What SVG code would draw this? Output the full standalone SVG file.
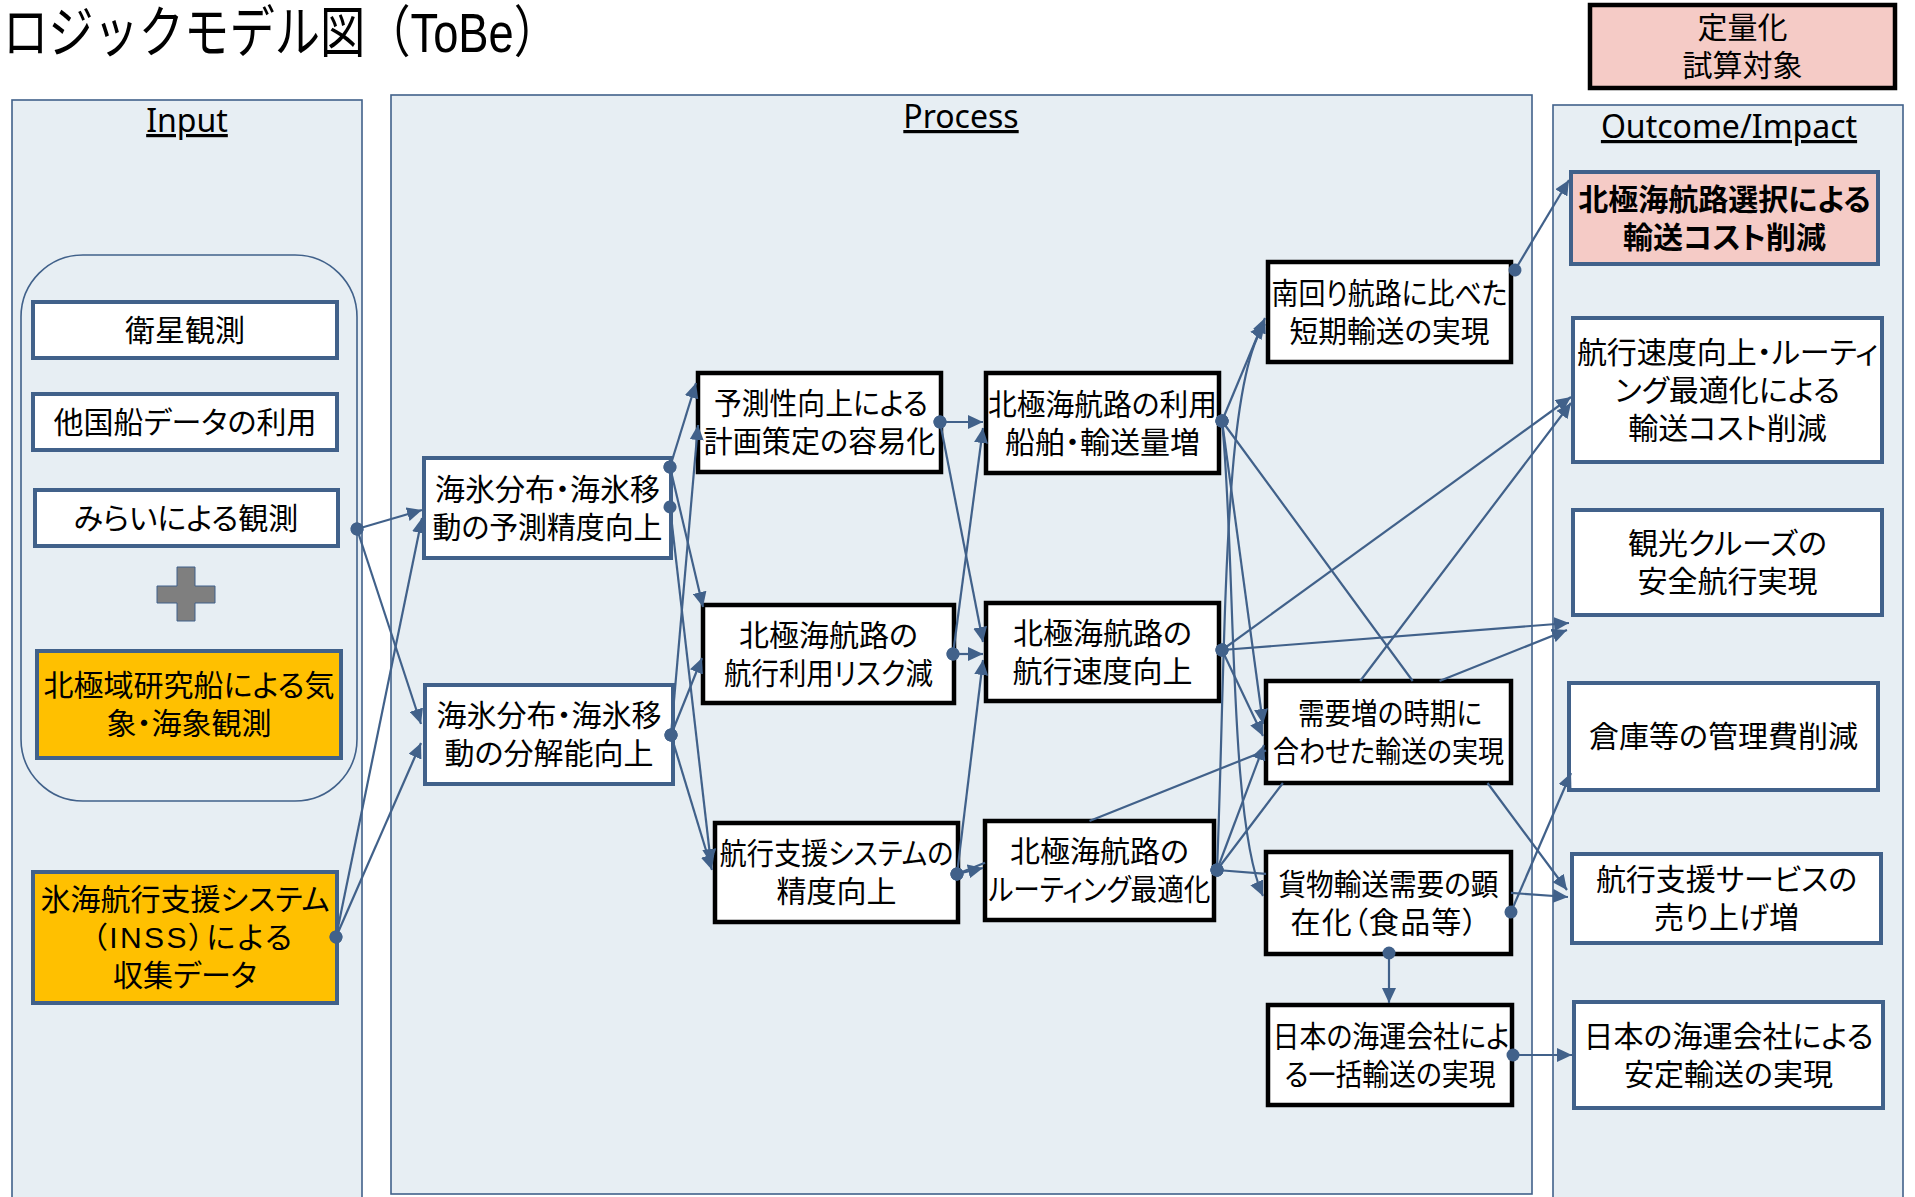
<svg xmlns="http://www.w3.org/2000/svg" width="1915" height="1197" viewBox="0 0 1915 1197">
<style>
.panel{fill:#E7EEF3;stroke:#41618A;stroke-width:1.6}
.grp{fill:none;stroke:#41618A;stroke-width:1.6}
.nb{fill:#FFFFFF;stroke:#41618A;stroke-width:4}
.nk{fill:#FFFFFF;stroke:#000000;stroke-width:4.5}
.ny{fill:#FFC000;stroke:#41618A;stroke-width:4}
.np{fill:#F5CBC6;stroke:#41618A;stroke-width:4}
.nq{fill:#F5CBC6;stroke:#000000;stroke-width:4.5}
.t{font-family:"Liberation Sans","Noto Sans CJK JP",sans-serif;font-size:30px;fill:#000;text-anchor:middle;dominant-baseline:central;font-feature-settings:"palt"}
.b{font-weight:700}
.hd{font-family:"Noto Sans","Liberation Sans",sans-serif;font-size:32px;fill:#000;text-anchor:middle;text-decoration:underline}
.c{fill:none;stroke:#41618A;stroke-width:2.2;marker-start:url(#dot);marker-end:url(#ah)}
.plus{fill:#7F7F7F;stroke:#41618A;stroke-width:1}
</style>
<defs>
<marker id="ah" markerUnits="userSpaceOnUse" markerWidth="16" markerHeight="14" refX="15" refY="7" orient="auto">
<path d="M0,0 L15,7 L0,14 z" fill="#41618A"/>
</marker>
<marker id="dot" markerUnits="userSpaceOnUse" markerWidth="14" markerHeight="14" refX="7" refY="7" orient="auto">
<circle cx="7" cy="7" r="6.5" fill="#41618A"/>
</marker>
</defs>
<rect width="1915" height="1197" fill="#FFFFFF"/>
<text class="t" x="3" y="32" style="font-size:56px;text-anchor:start;font-feature-settings:normal" textLength="556" lengthAdjust="spacingAndGlyphs">ロジックモデル図（ToBe）</text>
<g id="legend">
<rect x="1590" y="5" width="305" height="83" class="nq"/>
<text class="t" x="1742.5" y="27">定量化</text>
<text class="t" x="1742.5" y="65">試算対象</text>
</g>
<g id="panel-input">
<rect x="12" y="100" width="350" height="1110" class="panel"/>
<text class="hd" x="187" y="132">Input</text>
<rect x="21" y="255" width="336" height="546" rx="62" ry="62" class="grp"/>
</g>
<g id="panel-process">
<rect x="391" y="95" width="1141" height="1099" class="panel"/>
<text class="hd" x="961" y="128">Process</text>
</g>
<g id="panel-outcome">
<rect x="1553" y="105" width="350" height="1110" class="panel"/>
<text class="hd" x="1729" y="138">Outcome/Impact</text>
</g>
<g id="in1"><rect x="33" y="302" width="304" height="56" class="nb"/><text class="t" x="185" y="330">衛星観測</text></g>
<g id="in2"><rect x="33" y="394" width="304" height="56" class="nb"/><text class="t" x="185" y="422">他国船データの利用</text></g>
<g id="in3"><rect x="35" y="490" width="303" height="56" class="nb"/><text class="t" x="186" y="518">みらいによる観測</text></g>
<g id="plus"><path class="plus" d="M177,567 H195 V586 H215 V603 H195 V621 H177 V603 H157 V586 H177 Z"/></g>
<g id="in4"><rect x="37" y="651" width="304" height="107" class="ny"/><text class="t" x="189" y="685">北極域研究船による気</text><text class="t" x="189" y="723">象・海象観測</text></g>
<g id="in5"><rect x="33" y="872" width="304" height="131" class="ny"/><text class="t" x="185" y="899.5">氷海航行支援システム</text><text class="t" x="192" y="937.5" textLength="200">（INSS）による</text><text class="t" x="185" y="975.5">収集データ</text></g>
<g id="a1"><rect x="424" y="458" width="247" height="100" class="nb"/><text class="t" x="547.5" y="489">海氷分布・海氷移</text><text class="t" x="547.5" y="527" textLength="230" lengthAdjust="spacingAndGlyphs">動の予測精度向上</text></g>
<g id="a2"><rect x="425" y="685" width="248" height="99" class="nb"/><text class="t" x="549" y="715.5">海氷分布・海氷移</text><text class="t" x="549" y="753.5">動の分解能向上</text></g>
<g id="b1"><rect x="698" y="373" width="243" height="99" class="nk"/><text class="t" x="821" y="403.5" textLength="214" lengthAdjust="spacingAndGlyphs">予測性向上による</text><text class="t" x="819.5" y="441.5" textLength="232" lengthAdjust="spacingAndGlyphs">計画策定の容易化</text></g>
<g id="b2"><rect x="703" y="605" width="251" height="98" class="nk"/><text class="t" x="828.5" y="635">北極海航路の</text><text class="t" x="828.5" y="673" textLength="209" lengthAdjust="spacingAndGlyphs">航行利用リスク減</text></g>
<g id="b3"><rect x="715" y="823" width="243" height="99" class="nk"/><text class="t" x="836.5" y="853.5" textLength="234" lengthAdjust="spacingAndGlyphs">航行支援システムの</text><text class="t" x="836.5" y="891.5">精度向上</text></g>
<g id="c1"><rect x="986" y="373" width="233" height="100" class="nk"/><text class="t" x="1102.5" y="404" textLength="229" lengthAdjust="spacingAndGlyphs">北極海航路の利用</text><text class="t" x="1102.5" y="442">船舶・輸送量増</text></g>
<g id="c2"><rect x="986" y="603" width="233" height="98" class="nk"/><text class="t" x="1102.5" y="633">北極海航路の</text><text class="t" x="1102.5" y="671">航行速度向上</text></g>
<g id="c3"><rect x="985" y="821" width="229" height="99" class="nk"/><text class="t" x="1099.5" y="851.5">北極海航路の</text><text class="t" x="1099.5" y="889.5" textLength="222" lengthAdjust="spacingAndGlyphs">ルーティング最適化</text></g>
<g id="d1"><rect x="1268" y="262" width="243" height="100" class="nk"/><text class="t" x="1389.5" y="293" textLength="236" lengthAdjust="spacingAndGlyphs">南回り航路に比べた</text><text class="t" x="1389.5" y="331" textLength="200" lengthAdjust="spacingAndGlyphs">短期輸送の実現</text></g>
<g id="d2"><rect x="1266" y="681" width="245" height="102" class="nk"/><text class="t" x="1390" y="713" textLength="184" lengthAdjust="spacingAndGlyphs">需要増の時期に</text><text class="t" x="1388.5" y="751" textLength="231" lengthAdjust="spacingAndGlyphs">合わせた輸送の実現</text></g>
<g id="d3"><rect x="1266" y="852" width="245" height="102" class="nk"/><text class="t" x="1388.5" y="884" textLength="220" lengthAdjust="spacingAndGlyphs">貨物輸送需要の顕</text><text class="t" x="1384" y="922" textLength="187">在化（食品等）</text></g>
<g id="d4"><rect x="1268" y="1005" width="244" height="100" class="nk"/><text class="t" x="1391" y="1036" textLength="237" lengthAdjust="spacingAndGlyphs">日本の海運会社によ</text><text class="t" x="1390" y="1074" textLength="211" lengthAdjust="spacingAndGlyphs">る一括輸送の実現</text></g>
<g id="o1"><rect x="1571" y="172" width="307" height="92" class="np"/><text class="t b" x="1724.5" y="199">北極海航路選択による</text><text class="t b" x="1724.5" y="237">輸送コスト削減</text></g>
<g id="o2"><rect x="1573" y="318" width="309" height="144" class="nb"/><text class="t" x="1727.5" y="352">航行速度向上・ルーティ</text><text class="t" x="1727.5" y="390">ング最適化による</text><text class="t" x="1727.5" y="428">輸送コスト削減</text></g>
<g id="o3"><rect x="1573" y="510" width="309" height="105" class="nb"/><text class="t" x="1727.5" y="543.5">観光クルーズの</text><text class="t" x="1727.5" y="581.5">安全航行実現</text></g>
<g id="o4"><rect x="1569" y="683" width="309" height="107" class="nb"/><text class="t" x="1723.5" y="736.5">倉庫等の管理費削減</text></g>
<g id="o5"><rect x="1572" y="854" width="309" height="89" class="nb"/><text class="t" x="1726.5" y="879.5">航行支援サービスの</text><text class="t" x="1726.5" y="917.5">売り上げ増</text></g>
<g id="o6"><rect x="1574" y="1002" width="309" height="106" class="nb"/><text class="t" x="1728.5" y="1036">日本の海運会社による</text><text class="t" x="1728.5" y="1074">安定輸送の実現</text></g>
<g id="connectors">
<path class="c" d="M357,529 L422,510"/>
<path class="c" d="M357,529 L421,724"/>
<path class="c" d="M336,937 L422,518"/>
<path class="c" d="M336,937 L421,743"/>
<path class="c" d="M670,467 L696,383"/>
<path class="c" d="M670,467 L703,607"/>
<path class="c" d="M670,507 L711,864"/>
<path class="c" d="M671,735 L698,425"/>
<path class="c" d="M671,735 L702,658"/>
<path class="c" d="M671,735 L712,870"/>
<path class="c" d="M940,422 L983,422"/>
<path class="c" d="M940,422 L983,642"/>
<path class="c" d="M953,654 L983,428"/>
<path class="c" d="M953,654 L983,654"/>
<path class="c" d="M957,874 L983,660"/>
<path class="c" d="M957,874 L983,868"/>
<path class="c" d="M957,874 L985,862.8 M1089.5,821 L1266,750.4 M1439.5,681 L1567,630"/>
<path class="c" d="M1222,421 L1265,318"/>
<path class="c" d="M1222,421 L1263,724"/>
<path class="c" d="M1222,421 C1236,560 1228,820 1263,896"/>
<path class="c" d="M1222,421 L1412.7,681 M1487.5,783 L1567,890"/>
<path class="c" d="M1222,650 L1263,736"/>
<path class="c" d="M1222,650 L1571,397"/>
<path class="c" d="M1222,650 L1569,623"/>
<path class="c" d="M1217,870 C1226,650 1222,380 1265,324"/>
<path class="c" d="M1217,870 L1264,745"/>
<path class="c" d="M1217,870 L1282.9,783 M1360.2,681 L1571,403"/>
<path class="c" d="M1217,870 L1266,873.8 M1511,892.9 L1568,897"/>
<path class="c" d="M1515,270 L1569,180"/>
<path class="c" d="M1511,912 L1571,773"/>
<path class="c" d="M1389,953 L1389,1003"/>
<path class="c" d="M1513,1055 L1572,1055"/>
</g>
</svg>
